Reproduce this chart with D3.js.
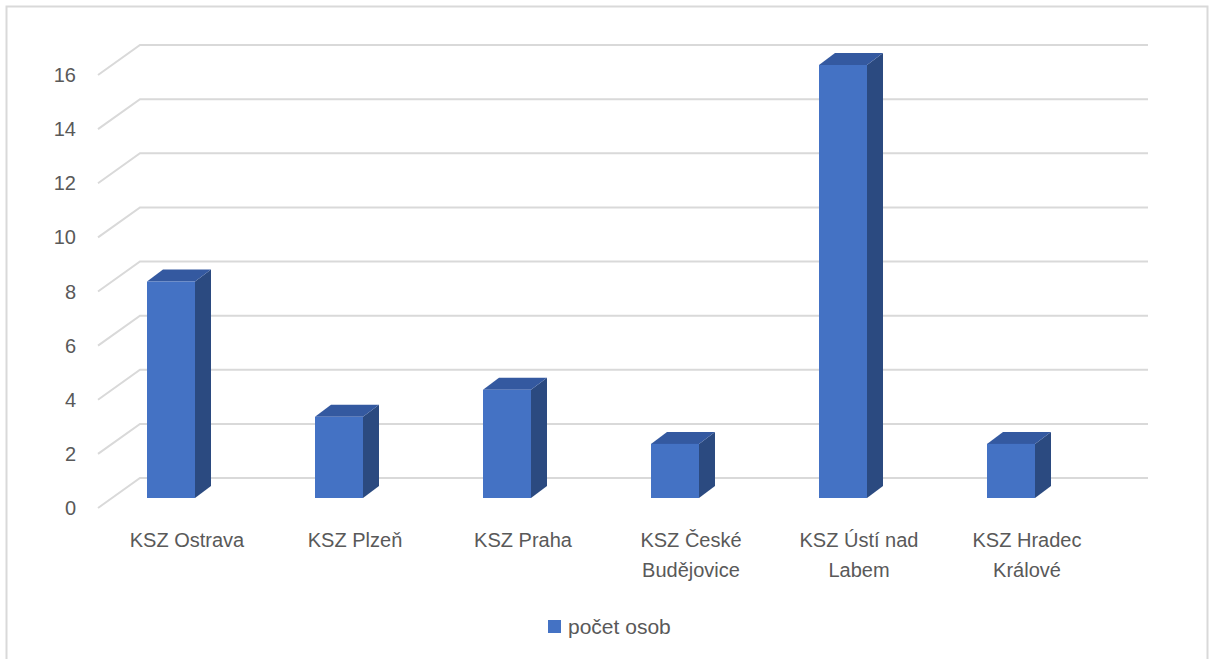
<!DOCTYPE html>
<html>
<head>
<meta charset="utf-8">
<script src="https://cdn.jsdelivr.net/npm/d3@7/dist/d3.min.js"></script>
<style>
  html, body { margin: 0; padding: 0; background: #fff; }
  svg { display: block; }
  text { font-family: "Liberation Sans", "DejaVu Sans", sans-serif; fill: #595959; }
</style>
</head>
<body>
<svg id="chart" width="1209" height="659"></svg>
<script>
// ---- data ----
const categories = ["KSZ Ostrava", "KSZ Plzeň", "KSZ Praha", "KSZ České Budějovice", "KSZ Ústí nad Labem", "KSZ Hradec Králové"];
const categoryLines = [["KSZ Ostrava"], ["KSZ Plzeň"], ["KSZ Praha"], ["KSZ České", "Budějovice"], ["KSZ Ústí nad", "Labem"], ["KSZ Hradec", "Králové"]];
const values = [8, 3, 4, 2, 16, 2];
const yTicks = [0, 2, 4, 6, 8, 10, 12, 14, 16];
const seriesName = "počet osob";

// ---- layout ----
const svg = d3.select("#chart");
const depthX = 42, depthY = -30;      // oblique depth of the plot floor
const barDX = 16, barDY = -12;        // depth of each bar
const barShiftY = -10;                // bar base sits behind the front plane

const x = d3.scaleBand().domain(categories).range([98, 1106]);
const y = d3.scaleLinear().domain([0, 16]).range([508, 75]);

// frame
svg.append("rect").attr("x", 6.5).attr("y", 6.5).attr("width", 1201).attr("height", 700)
  .attr("fill", "#fff").attr("stroke", "#D9D9D9").attr("stroke-width", 2);

// gridlines (front diagonal + back horizontal)
const grid = svg.append("g").attr("stroke", "#D9D9D9").attr("stroke-width", 2).attr("fill", "none");
yTicks.forEach(t => {
  const fy = y(t);
  grid.append("path")
    .attr("d", `M${x.range()[0]},${fy} L${x.range()[0] + depthX},${fy + depthY} L${x.range()[1] + depthX},${fy + depthY}`);
});

// y tick labels
svg.append("g").selectAll("text").data(yTicks).join("text")
  .attr("x", 76).attr("y", d => y(d)).attr("dy", "0.35em")
  .attr("text-anchor", "end").attr("font-size", 20)
  .text(d => d);

// bars
const bw = 48;
const bars = svg.append("g").selectAll("g").data(values).join("g");
bars.each(function(v, i) {
  const g = d3.select(this);
  const x0 = x(categories[i]) + 49;
  const x1 = x0 + bw;
  const yb = y(0) + barShiftY;
  const yt = y(v) + barShiftY;
  g.append("path")
    .attr("d", `M${x1},${yb} L${x1 + barDX},${yb + barDY} L${x1 + barDX},${yt + barDY} L${x1},${yt} Z`)
    .attr("fill", "#2B4A80");
  g.append("path")
    .attr("d", `M${x0},${yt} L${x0 + barDX},${yt + barDY} L${x1 + barDX},${yt + barDY} L${x1},${yt} Z`)
    .attr("fill", "#3459A0");
  g.append("rect").attr("x", x0).attr("y", yt).attr("width", bw).attr("height", yb - yt)
    .attr("fill", "#4472C4");
});

// category labels
const lab = svg.append("g").selectAll("text").data(categories).join("text")
  .attr("text-anchor", "middle").attr("font-size", 20)
  .attr("transform", d => `translate(${x(d) + x.bandwidth() / 2 + 5},547)`);
lab.each(function(d, i) {
  d3.select(this).selectAll("tspan").data(categoryLines[i]).join("tspan")
    .attr("x", 0).attr("y", (l, j) => j * 30).text(l => l);
});

// legend
const leg = svg.append("g").attr("transform", "translate(548,620)");
leg.append("rect").attr("width", 13).attr("height", 13).attr("fill", "#4472C4");
leg.append("text").attr("x", 20).attr("y", 7).attr("dy", "0.35em").attr("font-size", 21).text(seriesName);
</script>
</body>
</html>
